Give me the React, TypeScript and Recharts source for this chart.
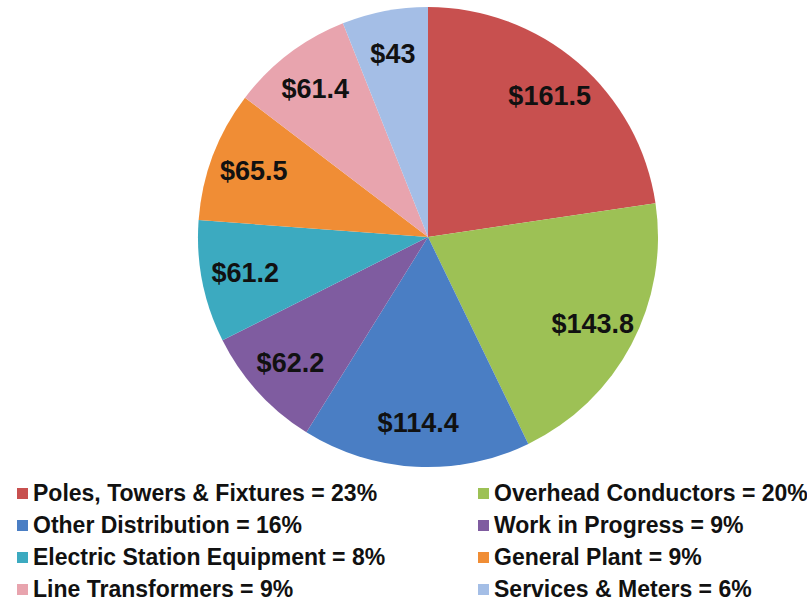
import { PieChart, Pie, Cell } from 'recharts'

const CATEGORIAS = [
  'Poles, Towers & Fixtures',
  'Overhead Conductors',
  'Other Distribution',
  'Work in Progress',
  'Electric Station Equipment',
  'General Plant',
  'Line Transformers',
  'Services & Meters',
]

const VALORES = [161.5, 143.8, 114.4, 62.2, 61.2, 65.5, 61.4, 43]

const PERCENTUAIS = [23, 20, 16, 9, 8, 9, 9, 6]

const CORES = [
  '#c8504f', '#9dc155', '#4a7ec4', '#7f5ca0',
  '#3caac0', '#f08d35', '#e8a4ae', '#a4bee6',
]

const dados = CATEGORIAS.map((nome, i) => ({
  nome,
  valor: VALORES[i],
  pct: PERCENTUAIS[i],
}))

const RAD = Math.PI / 180

// rótulo dentro da fatia, em negrito
function renderLabel(props: any) {
  const { cx, cy, midAngle, outerRadius, value } = props
  const r = outerRadius * 0.81
  const x = cx + r * Math.cos(-midAngle * RAD)
  const y = cy + r * Math.sin(-midAngle * RAD)
  return (
    <text
      x={x}
      y={y}
      textAnchor="middle"
      dominantBaseline="central"
      fill="#111"
      fontSize={27}
      fontWeight="bold"
      fontFamily="'Liberation Sans', Arial, sans-serif"
    >
      ${value}
    </text>
  )
}

export default function App() {
  return (
    <div style={{ position: 'absolute', left: 0, top: 0, width: 807, height: 604, background: '#fff', fontFamily: "'Liberation Sans', Arial, sans-serif" }}>
      <PieChart width={807} height={470} margin={{ top: 0, right: 0, bottom: 0, left: 0 }}>
        <Pie
          data={dados}
          dataKey="valor"
          nameKey="nome"
          cx={428}
          cy={237}
          outerRadius={230}
          startAngle={90}
          endAngle={-270}
          stroke="none"
          label={renderLabel}
          labelLine={false}
          isAnimationActive={false}
        >
          {dados.map((_, i) => (
            <Cell key={i} fill={CORES[i]} />
          ))}
        </Pie>
      </PieChart>

      {/* Legenda em duas colunas */}
      <div style={{ position: 'absolute', left: 17, top: 477, width: 790, display: 'grid', gridTemplateColumns: '461px 329px' }}>
        {dados.map((d, i) => (
          <div key={i} style={{ display: 'flex', alignItems: 'center', height: 32, fontSize: 23, fontWeight: 'bold', color: '#111', whiteSpace: 'nowrap' }}>
            <span style={{ width: 11, height: 11, background: CORES[i], marginRight: 5, display: 'inline-block', flexShrink: 0 }} />
            {d.nome} = {d.pct}%
          </div>
        ))}
      </div>
    </div>
  )
}
